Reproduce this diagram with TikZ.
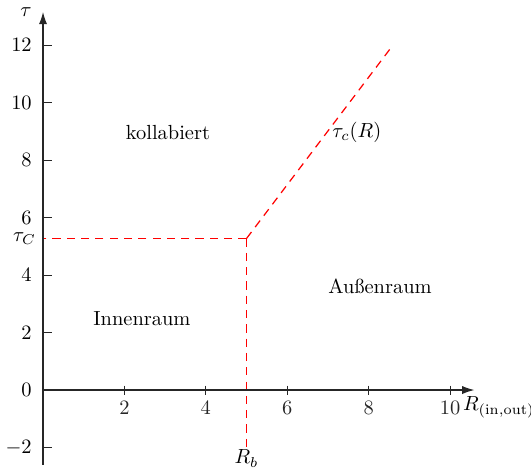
\documentclass[tikz,border=0pt]{standalone}
\usepackage{tikz}
\usetikzlibrary{arrows.meta, positioning}
\tikzset{
  axisline/.style={-{Latex[length=6pt, width=4pt]}, semithick, color=black!85},
  tickmark/.style={thin, color=black!85},
  border/.style={draw=red, line width=0.6pt, dash pattern=on 4pt off 3pt},
  region/.style={font=\normalsize, inner sep=1pt},
}

\begin{document}
\begin{tikzpicture}[x=0.7cm, y=0.4945cm]
  \useasboundingbox (-1.057,-2.678) rectangle (11.99,13.565);

  % --- Grenzen ---
  \coordinate (corner) at (5,5.27);
  \coordinate (leftend) at (0,5.27);
  \coordinate (lowend) at (5,-2);
  \coordinate (topend) at (8.6,12);
  \draw[border] (corner) -- (leftend);
  \draw[border] (corner) -- (lowend);
  \draw[border] (corner) -- (topend);

  % --- Achsen ---
  \coordinate (xstart) at (0,0);
  \coordinate (xend)   at (10.6,0);
  \coordinate (ystart) at (0,-2.6);
  \coordinate (yend)   at (0,13.15);
  \draw[axisline] (xstart) -- (xend);
  \draw[axisline] (ystart) -- (yend);
  \node[below right=3pt and -0.2cm of xend, inner sep=0pt] (xlabel) {$R_{(\mathrm{in,out})}$};
  \node[left=2pt of yend] (ylabel) {$\tau$};

  % --- Teilstriche ---
  \foreach \x in {2,4,...,10}
    \draw[tickmark] (\x,0) ++(0,2.2pt) -- ++(0,-4.4pt) node[below] {$\x$};
  \foreach \y in {-2,0,...,12}
    \draw[tickmark] (0,\y) -- ++(4.5pt,0);
  \foreach \y in {-2,0,...,12}
    \node[left=2pt] at (0,\y) {$\y$};

  \node[left] at (leftend) (tauC) {$\tau_C$};
  \node[below, inner sep=1pt] at (lowend) (Rb) {$R_b$};

  % --- Bereiche ---
  \node[region] at (3.07,8.94) (koll) {kollabiert};
  \node[region] at (2.43,2.47) (innen) {Innenraum};
  \node[region] at (8.28,3.62) (aussen) {Außenraum};
  \node[region] at (7.71,8.97) (tauc) {$\tau_c(R)$};

\end{tikzpicture}
\end{document}
